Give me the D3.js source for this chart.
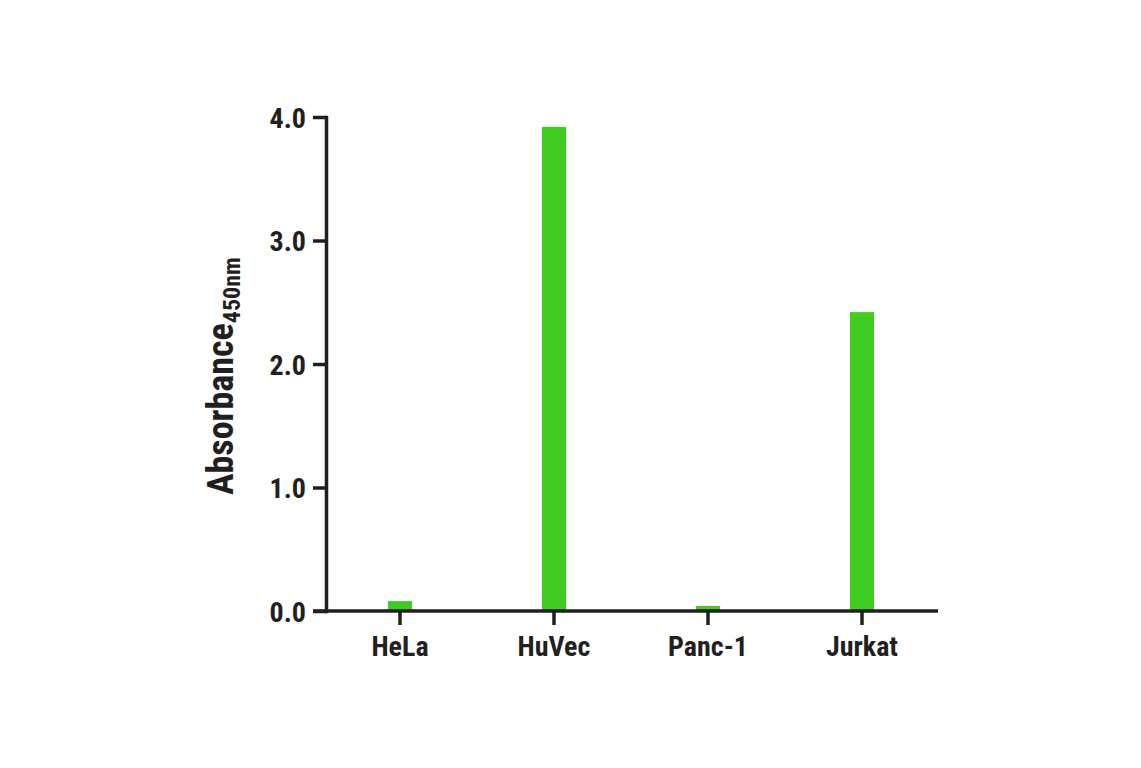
<!DOCTYPE html>
<html>
<head>
<meta charset="utf-8">
<script src="https://cdn.jsdelivr.net/npm/d3@7"></script>
<style>
  body { margin: 0; background: #fff; }
  svg { display: block; }
  .lbl, .axis text { font-family: "Liberation Sans Narrow", "Arial Narrow", "Roboto Condensed", sans-serif; font-weight: bold; fill: #231f20; }
  .axis path, .axis line { stroke: #231f20; stroke-width: 3.5; }
</style>
</head>
<body>
<div id="chart"></div>
<script>
const categories = ["HeLa", "HuVec", "Panc-1", "Jurkat"];
const absorbance = [0.08, 3.92, 0.04, 2.42];
const yTicks = [0, 1, 2, 3, 4];

const width = 1141, height = 768;
const plotLeft = 326, plotRight = 938, plotTop = 117, plotBottom = 611;

const svg = d3.select("#chart").append("svg")
    .attr("width", width)
    .attr("height", height);

const x = d3.scaleBand()
    .domain(categories)
    .range([323, 939]);

const y = d3.scaleLinear()
    .domain([0, 4])
    .range([plotBottom, plotTop]);

const barWidth = 24;

// bars
svg.append("g")
    .selectAll("rect")
    .data(categories)
    .join("rect")
    .attr("x", d => x(d) + x.bandwidth() / 2 - barWidth / 2)
    .attr("width", barWidth)
    .attr("y", (d, i) => y(absorbance[i]))
    .attr("height", (d, i) => y(0) - y(absorbance[i]))
    .attr("fill", "#40cc20");

// y axis
const yAxis = svg.append("g")
    .attr("class", "axis")
    .attr("transform", `translate(${plotLeft},0)`)
    .call(d3.axisLeft(y).tickValues(yTicks).tickFormat(d3.format(".1f")).tickSize(13).tickPadding(7).tickSizeOuter(0));
yAxis.select(".domain").attr("stroke-linecap", "square");
yAxis.selectAll("text").attr("font-size", 28).attr("dy", "0.36em");

// x axis
const xAxis = svg.append("g")
    .attr("class", "axis")
    .attr("transform", `translate(0,${plotBottom})`)
    .call(d3.axisBottom(x).tickSize(14).tickPadding(11).tickSizeOuter(0));
xAxis.select(".domain").attr("d", `M${313},0H${plotRight}`);
xAxis.selectAll("text").attr("font-size", 28);

// y axis title
const title = svg.append("text")
    .attr("class", "lbl")
    .attr("transform", `translate(233,495) rotate(-90)`)
    .attr("font-size", 36);
title.append("tspan").text("Absorbance");
title.append("tspan").attr("font-size", 24).attr("dy", 7).text("450nm");
</script>
</body>
</html>
